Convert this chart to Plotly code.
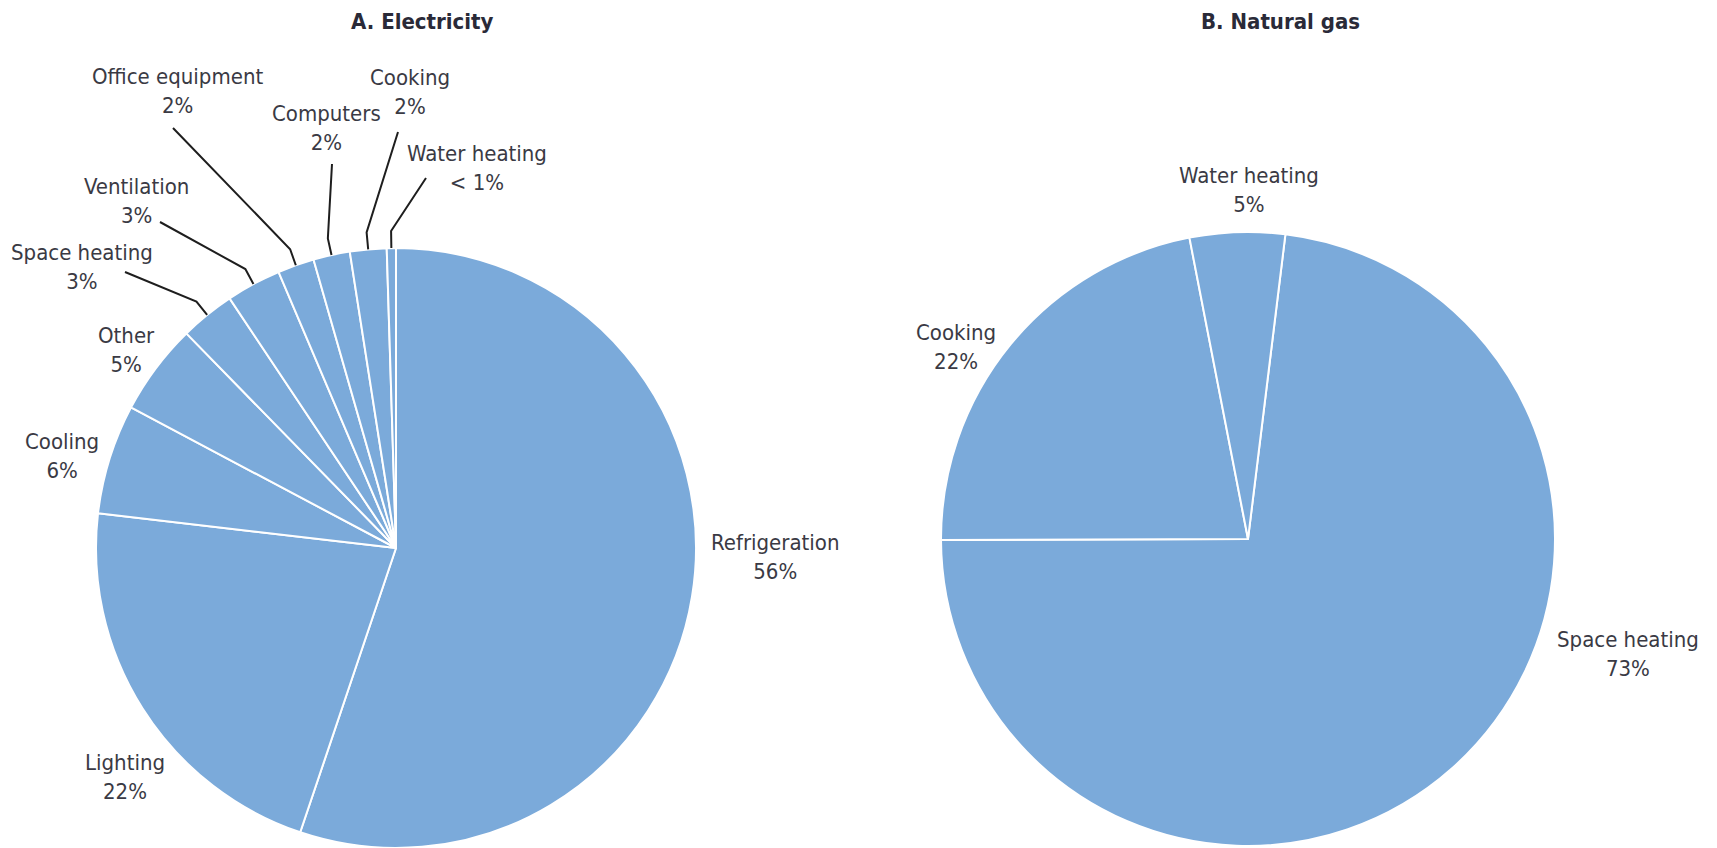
import math
import plotly.graph_objects as go

# ---- data -------------------------------------------------------------
elec_labels = ["Refrigeration", "Lighting", "Cooling", "Other", "Space heating",
               "Ventilation", "Office equipment", "Computers", "Cooking", "Water heating"]
elec_values = [56, 22, 6, 5, 3, 3, 2, 2, 2, 0.5]
elec_text = ["56%", "22%", "6%", "5%", "3%", "3%", "2%", "2%", "2%", "< 1%"]

gas_labels = ["Space heating", "Cooking", "Water heating"]
gas_values = [73, 22, 5]
gas_text = ["73%", "22%", "5%"]

# ---- layout constants (pixels) ---------------------------------------
W, H = 1717, 848
FILL = "#7BAADA"
TEXT = "#3a3a44"
FONT = "Liberation Sans Narrow, DejaVu Sans Condensed, Arial Narrow, sans-serif"
LABEL_SIZE = 22

PIE_A = dict(cx=396, cy=548, r=300, rotation=0)
PIE_B = dict(cx=1248, cy=539, r=307, rotation=7)

# label centres for each slice (pixels)
elec_label_pos = {
    "Refrigeration": (775, 557), "Lighting": (125, 777), "Cooling": (62, 456),
    "Other": (126, 350), "Space heating": (82, 267), "Ventilation": (136, 201),
    "Office equipment": (177, 91), "Computers": (326, 128), "Cooking": (410, 92),
    "Water heating": (477, 168),
}
# start points of leader lines for the crowded slices (pixels)
elec_leader_start = {
    "Space heating": (125, 272), "Ventilation": (160, 222),
    "Office equipment": (173, 128), "Computers": (332, 164),
    "Cooking": (398, 132), "Water heating": (426, 178),
}
gas_label_pos = {
    "Space heating": (1628, 654), "Cooking": (956, 347), "Water heating": (1249, 190),
}
ELBOW_GAP = 17


def px(x):
    return x / W


def py(y):
    return 1 - y / H


def domain(p):
    return dict(x=[px(p["cx"] - p["r"]), px(p["cx"] + p["r"])],
                y=[max(0, py(p["cy"] + p["r"])), min(1, py(p["cy"] - p["r"]))])


def mid_angles(values, rotation):
    total = sum(values)
    out, acc = [], 0.0
    for v in values:
        out.append(rotation + 360 * (acc + v / 2) / total)
        acc += v
    return out


def polar(p, ang, rad):
    a = math.radians(ang)
    return p["cx"] + rad * math.sin(a), p["cy"] - rad * math.cos(a)


fig = go.Figure()
for p, labels, values in [(PIE_A, elec_labels, elec_values), (PIE_B, gas_labels, gas_values)]:
    fig.add_trace(go.Pie(
        labels=labels, values=values, sort=False, direction="clockwise",
        rotation=p["rotation"], domain=domain(p), textinfo="none",
        hoverinfo="label+percent", showlegend=False,
        marker=dict(colors=[FILL] * len(values), line=dict(color="white", width=2)),
    ))

annotations = []
shapes = []


def add_label(x, y, name, pct):
    annotations.append(dict(
        x=px(x), y=py(y), xref="paper", yref="paper", showarrow=False,
        text=f"{name}<br>{pct}", align="center", xanchor="center", yanchor="middle",
        font=dict(family=FONT, size=LABEL_SIZE, color=TEXT),
    ))


angles_a = mid_angles(elec_values, PIE_A["rotation"])
for name, pct, ang in zip(elec_labels, elec_text, angles_a):
    add_label(*elec_label_pos[name], name, pct)
    if name in elec_leader_start:
        sx, sy = elec_leader_start[name]
        ex, ey = polar(PIE_A, ang, PIE_A["r"] + ELBOW_GAP)
        tx, ty = polar(PIE_A, ang, PIE_A["r"])
        shapes.append(dict(
            type="path", xref="paper", yref="paper",
            path=f"M {px(sx)},{py(sy)} L {px(ex)},{py(ey)} L {px(tx)},{py(ty)}",
            line=dict(color="#1e1e1e", width=2),
        ))

for name, pct in zip(gas_labels, gas_text):
    add_label(*gas_label_pos[name], name, pct)

for title, x in [("A. Electricity", 422), ("B. Natural gas", 1280)]:
    annotations.append(dict(
        x=px(x), y=py(22), xref="paper", yref="paper", showarrow=False,
        text=f"<b>{title}</b>", xanchor="center", yanchor="middle",
        font=dict(family=FONT, size=22, color="#2a2a38"),
    ))

fig.update_layout(
    width=W, height=H, margin=dict(l=0, r=0, t=0, b=0),
    paper_bgcolor="white", plot_bgcolor="white",
    annotations=annotations, shapes=shapes,
)

fig.write_html("out.html")
